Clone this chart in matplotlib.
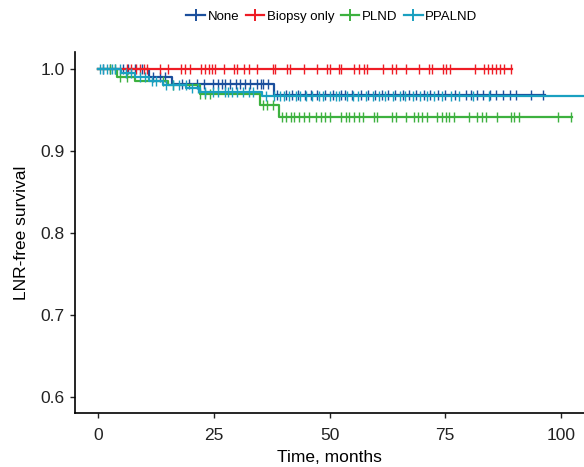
import numpy as np
import matplotlib
matplotlib.use("Agg")
import matplotlib.pyplot as plt

plt.rcParams['font.family'] = ['Liberation Sans', 'DejaVu Sans']

# Kaplan-Meier steps (time, survival)
groups = ["None", "Biopsy only", "PLND", "PPALND"]
colors = ["#1B4F9C", "#EE1C25", "#3DB13F", "#1AA0C0"]

none_t = [0, 11, 16, 38]
none_s = [1.0, 0.991, 0.982, 0.969]
none_end = 96.5
none_cens = [1.1, 2.6, 5.4, 6.5, 8.0, 9.5, 11.9, 13.4, 14.5, 18.2, 19.6, 21.3, 22.8,
             24.9, 26.0, 26.8, 27.5, 28.6, 29.7, 30.7, 31.8, 32.9, 34.4, 35.1, 35.7, 36.8,
             38.6, 40.5, 41.9, 43.2, 44.7, 46.1, 47.4, 49.0, 50.7, 52.5, 53.4, 54.9, 56.7,
             58.3, 59.8, 61.3, 62.7, 64.1, 65.8, 67.2, 68.8, 70.4, 71.7, 73.4, 74.9, 77.1,
             79.4, 80.5, 81.8, 83.2, 84.7, 86.0, 87.6, 89.0, 90.3, 93.6, 96.2]

biopsy_t = [0]
biopsy_s = [1.0]
biopsy_end = 89.5
biopsy_cens = [6.2, 7.1, 8.2, 9.1, 9.9, 10.5, 13.3, 15.2, 18.0, 18.8, 19.8, 22.3, 23.0,
               23.9, 24.6, 25.2, 27.3, 29.3, 30.0, 31.5, 32.5, 34.3, 37.8, 38.3, 40.8,
               41.5, 44.4, 47.2, 49.4, 50.0, 52.0, 52.4, 55.4, 56.3, 57.4, 58.2, 61.5,
               63.4, 64.3, 66.5, 69.3, 71.4, 72.2, 74.5, 75.1, 76.0, 81.4, 83.3, 84.2,
               85.1, 85.9, 86.8, 87.7, 89.2]

plnd_t = [0, 4, 8, 15, 22, 35, 39]
plnd_s = [1.0, 0.991, 0.986, 0.981, 0.970, 0.957, 0.942]
plnd_end = 102.4
plnd_cens = [2.6, 3.7, 4.8, 6.3, 14.0, 16.2, 22.0, 23.2, 24.2, 35.7, 36.6, 37.7,
             39.8, 40.5, 41.6, 42.3, 43.4, 44.4, 45.5, 47.0, 48.1, 49.1, 50.2, 52.4,
             53.5, 54.2, 55.3, 56.4, 57.3, 59.6, 60.3, 63.6, 64.3, 66.5, 68.2, 69.1,
             70.0, 71.1, 73.3, 74.4, 75.1, 75.8, 76.9, 80.2, 81.9, 83.0, 83.8, 86.3,
             89.2, 89.9, 91.0, 99.3, 102.2]

ppalnd_t = [0, 5, 8, 11, 14, 19, 22, 35.5]
ppalnd_s = [1.0, 0.995, 0.990, 0.986, 0.981, 0.977, 0.972, 0.967]
ppalnd_end = 110
ppalnd_cens = [0.4, 1.1, 1.9, 3.0, 3.7, 4.8, 6.0, 7.2, 9.0, 10.2, 11.6, 12.6, 14.6,
               16.1, 17.4, 18.9, 20.2, 21.5, 23.1, 24.9, 26.0, 27.5, 28.1, 29.0, 30.1,
               31.4, 32.5, 33.5, 36.2, 38.0, 39.3, 40.1, 41.2, 42.8, 43.6, 45.0, 46.3,
               47.7, 48.6, 50.2, 51.4, 52.1, 53.8, 55.0, 56.2, 57.9, 59.3, 60.8, 62.0,
               63.7, 65.2, 66.4, 68.1, 69.6, 71.0, 72.5, 74.3, 76.2, 78.0, 81.1, 84.5]

curves = [
    (none_t, none_s, none_end, none_cens),
    (biopsy_t, biopsy_s, biopsy_end, biopsy_cens),
    (plnd_t, plnd_s, plnd_end, plnd_cens),
    (ppalnd_t, ppalnd_s, ppalnd_end, ppalnd_cens),
]

fig = plt.figure(figsize=(5.84, 4.67), dpi=100)
ax = fig.add_axes([75 / 584, 1 - 413 / 467, 509 / 584, 361 / 467])

handles = []
for (t, s, end, cens), name, col in zip(curves, groups, colors):
    x = list(t) + [end]
    y = list(s) + [s[-1]]
    ax.step(x, y, where="post", color=col, lw=1.6)
    idx = np.searchsorted(t, cens, side="right") - 1
    cy = np.array(s)[idx]
    ax.plot(cens, cy, ls="none", marker="|", ms=7.5, mew=1.0, color=col)
    h, = ax.plot([], [], color=col, lw=1.6, marker="+", ms=8, mew=1.4)
    handles.append(h)

ax.set_xlim(-5, 105)
ax.set_ylim(0.581, 1.021)
ax.set_xticks([0, 25, 50, 75, 100])
ax.set_yticks([0.6, 0.7, 0.8, 0.9, 1.0])
ax.set_yticklabels(["0.6", "0.7", "0.8", "0.9", "1.0"])
for sp in ["top", "right"]:
    ax.spines[sp].set_visible(False)
for sp in ["left", "bottom"]:
    ax.spines[sp].set_linewidth(1.2)
ax.tick_params(labelsize=12.5, length=3.5, width=1, colors="#222222")
ax.tick_params(axis="x", pad=7)
ax.tick_params(axis="y", pad=4)
ax.set_xlabel("Time, months", fontsize=12.5, labelpad=5)
ax.set_ylabel("LNR-free survival", fontsize=12.5, labelpad=8)

fig.legend(handles, groups, loc="center", bbox_to_anchor=(332 / 584, 1 - 17 / 467),
           ncol=4, frameon=False, fontsize=9.5, handlelength=1.4, handletextpad=0.2,
           columnspacing=0.5)

fig.savefig("out.png", dpi=100)
